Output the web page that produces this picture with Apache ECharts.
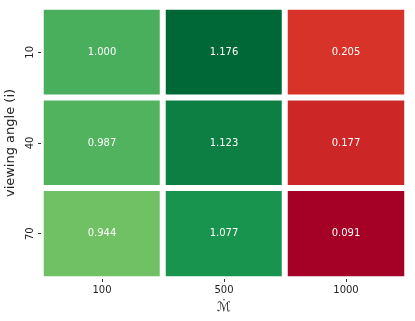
<!DOCTYPE html>
<html>
<head>
<meta charset="utf-8">
<script src="https://cdn.jsdelivr.net/npm/echarts@6/dist/echarts.min.js"></script>
<style>
  html, body { margin: 0; padding: 0; background: #fff; }
  #chart { width: 415px; height: 321px; }
</style>
</head>
<body>
<div id="chart"></div>
<script>
// 横轴 / 纵轴类别
const mdotLabels = ['100', '500', '1000'];
const angleLabels = ['10', '40', '70'];
// 每行对应一个 viewing angle
const row10 = [1.000, 1.176, 0.205];
const row40 = [0.987, 1.123, 0.177];
const row70 = [0.944, 1.077, 0.091];
// RdYlGn 色带
const rdYlGn = ['#a50026', '#d73027', '#f46d43', '#fdae61', '#fee08b', '#ffffbf',
  '#d9ef8b', '#a6d96a', '#66bd63', '#1a9850', '#006837'];

const rows = [row10, row40, row70];
const cells = [];
rows.forEach((row, yi) => {
  row.forEach((v, xi) => {
    cells.push([xi, yi, v]);
  });
});
const allVals = rows.flat();
const FONT = 'DejaVu Sans';

const chart = echarts.init(document.getElementById('chart'));
chart.setOption({
  backgroundColor: '#fff',
  textStyle: { fontFamily: FONT },
  grid: { left: 41, right: 8, top: 7, bottom: 42, outerBoundsMode: 'none' },
  xAxis: {
    type: 'category',
    data: mdotLabels,
    // M 上加一点 (质量损失率)
    name: '{d|·}\n{m|ℳ}',
    nameLocation: 'middle',
    nameGap: 19,
    nameMoveOverlap: false,
    nameTextStyle: {
      color: '#222',
      fontFamily: FONT,
      rich: {
        d: { fontSize: 11, lineHeight: 4, fontFamily: FONT, color: '#222', align: 'center' },
        m: { fontSize: 13, lineHeight: 12, fontFamily: FONT, color: '#222', align: 'center' }
      }
    },
    z: 5,
    axisLine: { show: false },
    axisTick: { show: true, alignWithLabel: true, length: 3, lineStyle: { color: '#333' } },
    axisLabel: { color: '#222', fontSize: 10, fontFamily: FONT, margin: 6 },
    splitArea: { show: false }
  },
  yAxis: {
    type: 'category',
    data: angleLabels,
    inverse: true,
    name: 'viewing angle (i)',
    nameLocation: 'middle',
    nameGap: 24,
    nameMoveOverlap: false,
    nameRotate: 90,
    nameTextStyle: { color: '#222', fontSize: 13, fontFamily: FONT },
    z: 5,
    axisLine: { show: false },
    axisTick: { show: true, alignWithLabel: true, length: 3, lineStyle: { color: '#333' } },
    axisLabel: { color: '#222', fontSize: 10, fontFamily: FONT, rotate: 90, margin: 6 }
  },
  visualMap: {
    show: false,
    min: Math.min(...allVals),
    max: Math.max(...allVals),
    inRange: { color: rdYlGn }
  },
  series: [{
    type: 'heatmap',
    data: cells,
    itemStyle: { borderColor: '#fff', borderWidth: 6 },
    label: {
      show: true,
      color: '#fff',
      fontSize: 10,
      fontFamily: FONT,
      formatter: p => p.value[2].toFixed(3)
    },
    emphasis: { disabled: true }
  }]
});
</script>
</body>
</html>
